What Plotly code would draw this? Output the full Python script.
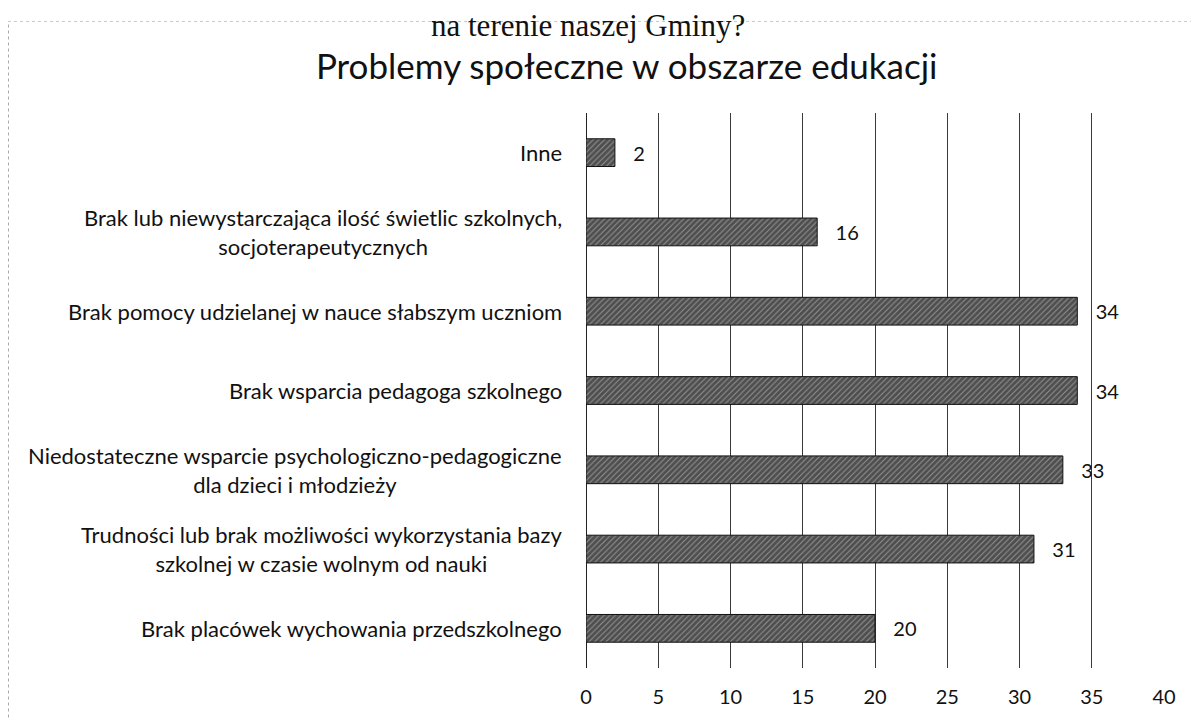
import plotly.graph_objects as go

# dane
kategorie = [
    "Brak placówek wychowania przedszkolnego",
    "Trudności lub brak możliwości wykorzystania bazy<br>szkolnej w czasie wolnym od nauki",
    "Niedostateczne wsparcie psychologiczno-pedagogiczne<br>dla dzieci i młodzieży",
    "Brak wsparcia pedagoga szkolnego",
    "Brak pomocy udzielanej w nauce słabszym uczniom",
    "Brak lub niewystarczająca ilość świetlic szkolnych,<br>socjoterapeutycznych",
    "Inne",
]
wartosci = [20, 31, 33, 34, 34, 16, 2]
ticki_x = [0, 5, 10, 15, 20, 25, 30, 35, 40]

fnt = "Lato, Open Sans, sans-serif"

fig = go.Figure()

fig.add_trace(go.Bar(
    y=kategorie,
    x=wartosci,
    orientation="h",
    width=0.35,
    marker=dict(
        color="#4e4e4e",
        line=dict(color="#111", width=1),
        pattern=dict(shape="/", fgcolor="#d8d8d8", size=4, solidity=0.25),
    ),
    text=["   " + str(v) for v in wartosci],
    textposition="outside",
    cliponaxis=False,
    textfont=dict(family=fnt, size=20, color="#111"),
))

# etykiety kategorii - wyśrodkowane wiersze, wyrównane do prawej przy osi
for kat in kategorie:
    fig.add_annotation(text=kat, x=0, y=kat, xref="x", yref="y",
                       xanchor="right", yanchor="middle", align="center",
                       xshift=-22, showarrow=False,
                       font=dict(family=fnt, size=22, color="#111"))

fig.update_layout(
    width=1199, height=719,
    paper_bgcolor="white", plot_bgcolor="white",
    margin=dict(l=578, r=43, t=105, b=59),
    showlegend=False,
    title=dict(text="Problemy społeczne w obszarze edukacji",
               x=0.516, xanchor="center", y=0.918, yanchor="middle",
               font=dict(family=fnt, size=35, color="#111")),
    font=dict(family=fnt, size=20, color="#111"),
)

fig.update_xaxes(
    range=[0, 40], tickvals=ticki_x, showgrid=True,
    gridcolor="#3a3a3a", gridwidth=1,
    zeroline=True, zerolinecolor="#222", zerolinewidth=1,
    ticks="", ticklabelstandoff=15,
    tickfont=dict(family=fnt, size=20, color="#111"),
)
fig.update_yaxes(showgrid=False, ticks="", showticklabels=False)

# fragment tekstu z poprzedniej strony i ramka skanu
fig.add_annotation(text="na terenie naszej Gminy?", xref="paper", yref="paper",
                   x=0.004, y=1.192, xanchor="center", yanchor="top", showarrow=False,
                   font=dict(family="Liberation Serif", size=31, color="#111"))
fig.add_shape(type="line", xref="paper", yref="paper", x0=-1.0, x1=-1.0, y0=-0.1, y1=1.16,
              line=dict(color="#555", width=1, dash="dot"))
fig.add_shape(type="line", xref="paper", yref="paper", x0=-1.0, x1=1.06, y0=1.165, y1=1.165,
              line=dict(color="#c8c8c8", width=1, dash="dot"))

fig.write_html("out.html")
